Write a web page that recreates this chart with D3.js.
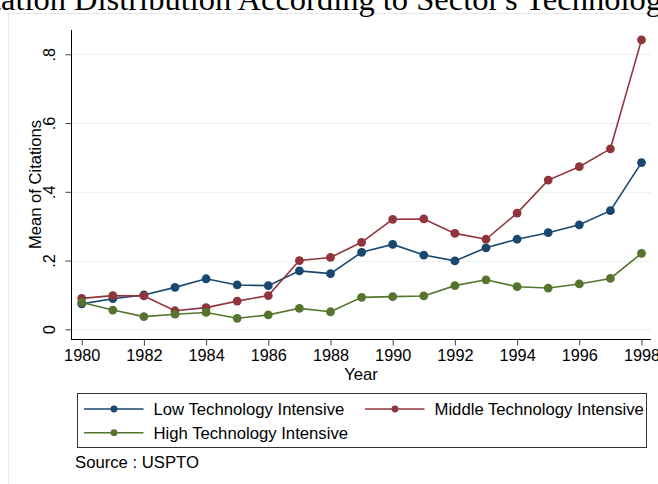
<!DOCTYPE html>
<html>
<head>
<meta charset="utf-8">
<script src="https://cdn.jsdelivr.net/npm/d3@7"></script>
<style>
  body { margin: 0; background: #fff; }
  svg { display: block; }
  text { font-family: "Liberation Sans", Arial, sans-serif; fill: #000; }
</style>
</head>
<body>
<svg width="658" height="484"></svg>
<script>
var width = 658;
var height = 484;

var titleText = "Citation Distribution According to Sector's Technology Intensity";
var yLabel = 'Mean of Citations';
var xLabel = 'Year';
var sourceNote = 'Source : USPTO';

var years = [1980, 1981, 1982, 1983, 1984, 1985, 1986, 1987, 1988, 1989,
             1990, 1991, 1992, 1993, 1994, 1995, 1996, 1997, 1998];
var xTicks = [1980, 1982, 1984, 1986, 1988, 1990, 1992, 1994, 1996, 1998];
var yTicks = [0, 0.2, 0.4, 0.6, 0.8];
var yTickLabels = ['0', '.2', '.4', '.6', '.8'];

var lowTech = [0.074, 0.089, 0.100, 0.122, 0.147, 0.129, 0.127, 0.170, 0.162, 0.224,
               0.247, 0.216, 0.199, 0.237, 0.262, 0.281, 0.304, 0.345, 0.485];
var middleTech = [0.090, 0.098, 0.097, 0.054, 0.063, 0.082, 0.098, 0.200, 0.209, 0.253,
                  0.320, 0.321, 0.279, 0.262, 0.338, 0.434, 0.473, 0.525, 0.842];
var highTech = [0.078, 0.056, 0.037, 0.044, 0.049, 0.032, 0.042, 0.061, 0.051, 0.093,
                0.095, 0.097, 0.127, 0.144, 0.124, 0.120, 0.132, 0.148, 0.221];

var seriesNames = ['Low Technology Intensive', 'Middle Technology Intensive', 'High Technology Intensive'];
var seriesColors = ['#1a476f', '#90353b', '#55752f'];

var series = [
    {name: seriesNames[0], color: seriesColors[0], values: lowTech},
    {name: seriesNames[1], color: seriesColors[1], values: middleTech},
    {name: seriesNames[2], color: seriesColors[2], values: highTech}
];

var plotLeft = 71, plotRight = 651, plotTop = 30, plotBottom = 339;

var svg = d3.select('svg');

// graph region outline, runs off the right/bottom like the original crop
svg.append('rect')
    .attr('x', 8.5).attr('y', 13.5)
    .attr('width', 700).attr('height', 500)
    .attr('fill', '#fff')
    .attr('stroke', '#e4ebec');

// title (cut off at the top and both sides in the reference)
var title = svg.append('text')
    .attr('y', 9.5)
    .style('font-family', '"Liberation Serif", "Times New Roman", serif')
    .style('font-size', '32.5px')
    .text(titleText);
var cut = title.node().getSubStringLength(0, 3);
title.attr('x', -cut + 1);

var x = d3.scaleLinear().domain([1980, 1998]).range([81.7, 641.5]);
var y = d3.scaleLinear().domain([0, 0.8]).range([329.3, 54.3]);

// gridlines
svg.append('g')
    .selectAll('line')
    .data(yTicks)
    .join('line')
    .attr('x1', plotLeft).attr('x2', plotRight)
    .attr('y1', function(d) { return Math.round(y(d)) + 0.5; })
    .attr('y2', function(d) { return Math.round(y(d)) + 0.5; })
    .attr('stroke', '#eaf1f2')
    .attr('stroke-width', 1.2);

// y axis
var yAxis = svg.append('g')
    .attr('transform', 'translate(' + (plotLeft + 0.5) + ',0)')
    .call(d3.axisLeft(y).tickValues(yTicks)
        .tickFormat(function(d, i) { return yTickLabels[i]; })
        .tickSize(6).tickPadding(0));
yAxis.select('.domain').attr('d', 'M0,' + plotTop + 'V' + plotBottom).attr('stroke', '#000');
yAxis.selectAll('.tick line').attr('stroke', '#444');
yAxis.selectAll('.tick text')
    .attr('x', null).attr('dy', null)
    .attr('text-anchor', 'middle')
    .attr('transform', 'translate(-17,0) rotate(-90)')
    .style('font-size', '16.3px')
    .style('font-family', '"Liberation Sans", Arial, sans-serif')
    .attr('fill', '#000');

// x axis
var xAxis = svg.append('g')
    .attr('transform', 'translate(0,' + (plotBottom + 0.5) + ')')
    .call(d3.axisBottom(x).tickValues(xTicks).tickFormat(d3.format('d'))
        .tickSize(6).tickPadding(4));
xAxis.select('.domain').attr('d', 'M' + plotLeft + ',0H' + plotRight).attr('stroke', '#000');
xAxis.selectAll('.tick line').attr('stroke', '#444');
xAxis.selectAll('.tick text')
    .style('font-size', '16.3px')
    .style('font-family', '"Liberation Sans", Arial, sans-serif')
    .attr('fill', '#000');

// axis titles
svg.append('text')
    .attr('transform', 'translate(41,' + ((plotTop + plotBottom) / 2) + ') rotate(-90)')
    .attr('text-anchor', 'middle')
    .style('font-size', '16.6px')
    .text(yLabel);

svg.append('text')
    .attr('x', (plotLeft + plotRight) / 2)
    .attr('y', 380)
    .attr('text-anchor', 'middle')
    .style('font-size', '16.6px')
    .text(xLabel);

// lines + markers
var line = d3.line()
    .x(function(d, i) { return x(years[i]); })
    .y(function(d) { return y(d); });

series.forEach(function(s) {
    var g = svg.append('g');
    g.append('path')
        .datum(s.values)
        .attr('d', line)
        .attr('fill', 'none')
        .attr('stroke', s.color)
        .attr('stroke-width', 1.6);
    g.selectAll('circle')
        .data(s.values)
        .join('circle')
        .attr('cx', function(d, i) { return x(years[i]); })
        .attr('cy', function(d) { return y(d); })
        .attr('r', 4.4)
        .attr('fill', s.color);
});

// legend
svg.append('rect')
    .attr('x', 77.5).attr('y', 393.5)
    .attr('width', 569).attr('height', 54)
    .attr('fill', '#fff')
    .attr('stroke', '#333')
    .attr('stroke-width', 1);

var legendPos = [
    {x: 84, y: 409},
    {x: 365, y: 409},
    {x: 84, y: 432.7}
];

series.forEach(function(s, i) {
    var p = legendPos[i];
    var lg = svg.append('g').attr('transform', 'translate(' + p.x + ',' + p.y + ')');
    lg.append('line')
        .attr('x1', 0).attr('x2', 59.5)
        .attr('y1', 0).attr('y2', 0)
        .attr('stroke', s.color)
        .attr('stroke-width', 1.6);
    lg.append('circle')
        .attr('cx', 30).attr('cy', 0).attr('r', 3.4)
        .attr('fill', s.color);
    lg.append('text')
        .attr('x', 69.5).attr('y', 5.8)
        .style('font-size', '16.7px')
        .text(s.name);
});

svg.append('text')
    .attr('x', 75).attr('y', 468)
    .style('font-size', '16.7px')
    .text(sourceNote);
</script>
</body>
</html>
